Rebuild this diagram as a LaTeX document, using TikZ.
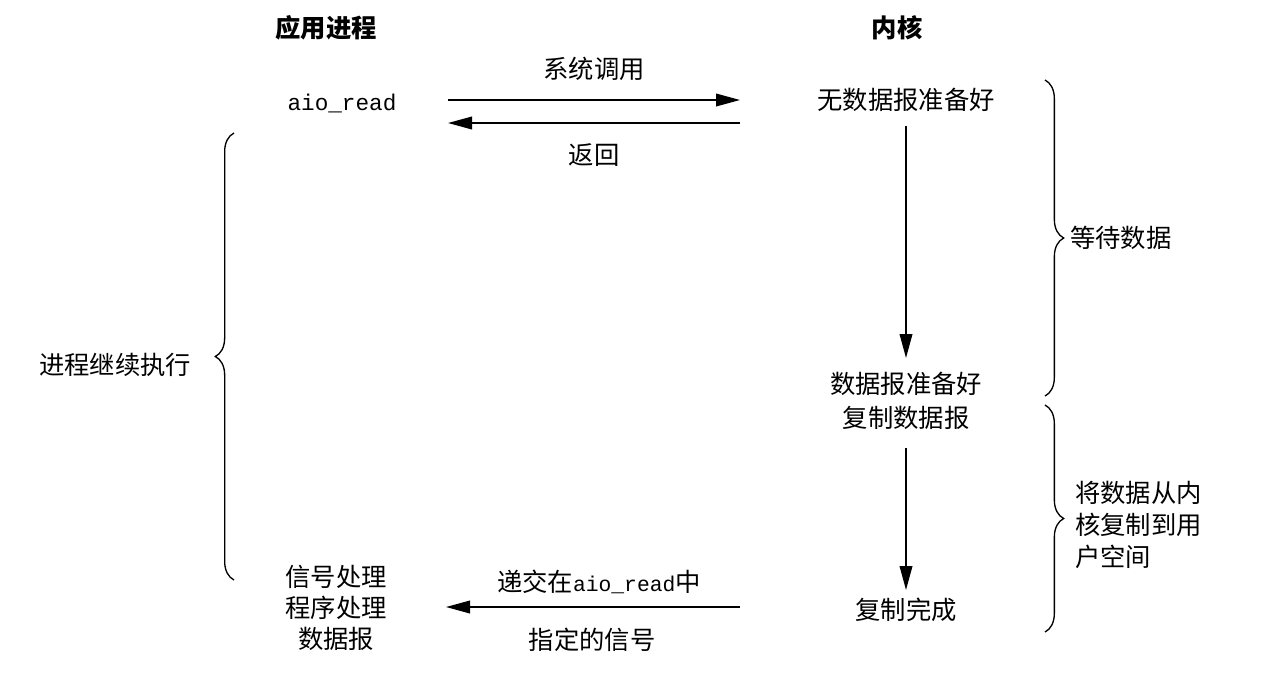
\documentclass[tikz,border=0pt]{standalone}
\usepackage{fontspec}
\setmainfont{Liberation Serif}
\setmonofont{Liberation Mono}
\newfontfamily\cjk{Noto Sans CJK SC}
\usetikzlibrary{arrows.meta,decorations.pathreplacing}
\begin{document}
\begin{tikzpicture}[x=0.75pt,y=-0.75pt,
  lbl/.style={font=\cjk\fontsize{19}{23}\selectfont, inner sep=0pt, align=center},
  ttl/.style={font=\cjk\bfseries\fontsize{19}{23}\selectfont, inner sep=0pt},
  code/.style={font=\ttfamily\fontsize{17}{20}\selectfont, inner sep=0pt},
  arr/.style={line width=1.2pt, -{Triangle[length=18pt,width=9.5pt]}},
  brc/.style={line width=1pt, decorate, decoration={brace, amplitude=14pt}}]
\useasboundingbox (0,0) rectangle (1262,672);
% titles
\node[ttl] (tapp) at (326,28) {应用进程};
\node[ttl] (tker) at (897,28) {内核};
% process side
\node[code] (aio) at (342,103) {aio\_read};
\node[lbl] (sig) at (336,608) {信号处理\\程序处理\\数据报};
\node[lbl] (cont) at (115,365) {进程继续执行};
% kernel side
\node[lbl] (nodata) at (906,100) {无数据报准备好};
\node[lbl] (ready) at (906,401) {数据报准备好\\[2pt]复制数据报};
\node[lbl] (done) at (906,610) {复制完成};
% horizontal arrow ends
\coordinate (c1a) at (448,100); \coordinate (c1b) at (740,100);
\coordinate (c2a) at (740,123); \coordinate (c2b) at (448,123);
\coordinate (c3a) at (740,607); \coordinate (c3b) at (446,607);
\draw[arr] (c1a) -- (c1b) node[lbl, midway, above=14pt] (l1) {系统调用};
\draw[arr] (c2a) -- (c2b) node[lbl, midway, below=15pt] (l2) {返回};
\draw[arr] (c3a) -- (c3b) node[lbl, pos=0.48, above=9pt] (l3) {递交在{\ttfamily\fontsize{16}{19}\selectfont aio\_read}中};
\node[lbl] (l4) at (592,640) {指定的信号};
% vertical arrows
\coordinate (v1a) at (906,126); \coordinate (v1b) at (906,358);
\coordinate (v2a) at (906,448); \coordinate (v2b) at (906,590);
\draw[arr] (v1a) -- (v1b);
\draw[arr] (v2a) -- (v2b);
% braces
\draw[brc] (1045,80) -- (1045,396);
\node[lbl, anchor=west] (wait) at (1070,238) {等待数据};
\draw[brc] (1045,405) -- (1045,632);
\node[lbl, align=left, anchor=west] (copy) at (1075,525) {将数据从内\\[1pt]核复制到用\\[1pt]户空间};
\draw[brc] (234,580) -- (234,133);
\end{tikzpicture}
\end{document}
